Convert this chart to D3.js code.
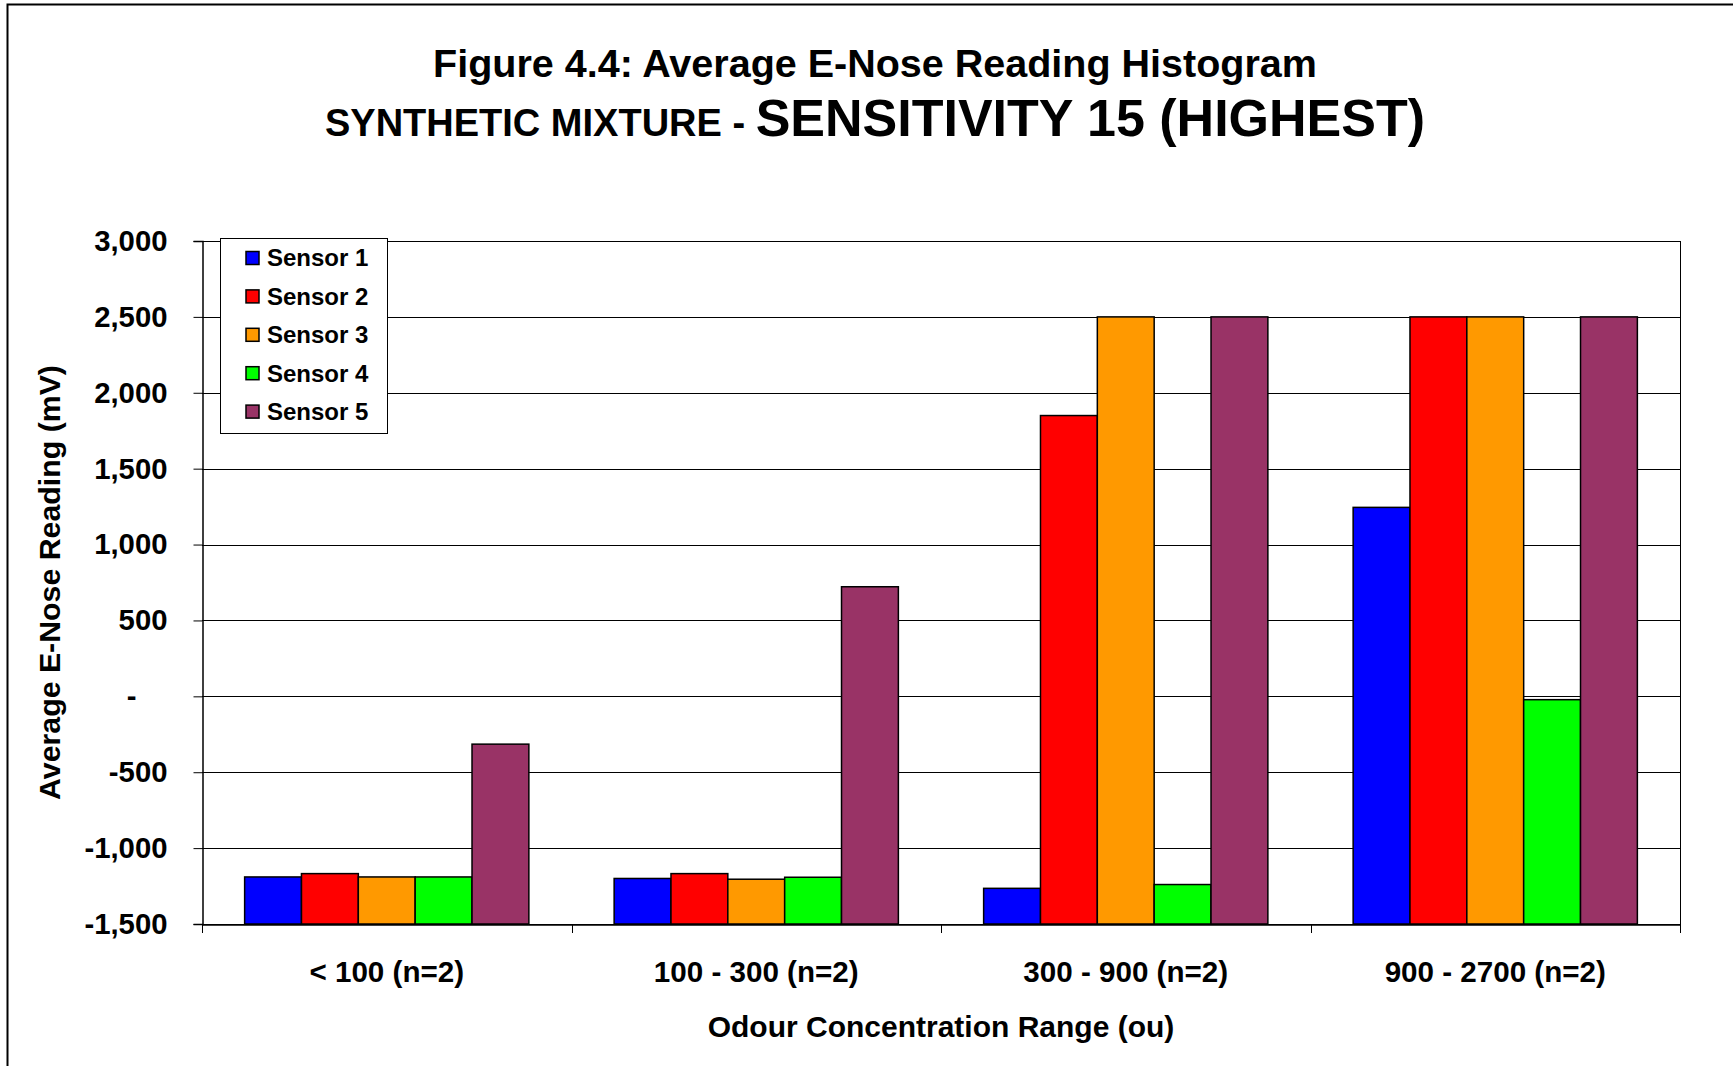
<!DOCTYPE html>
<html>
<head>
<meta charset="utf-8">
<script src="https://cdn.jsdelivr.net/npm/d3@7"></script>
<style>
  html, body { margin: 0; padding: 0; background: #fff; }
  svg { display: block; font-family: "Liberation Sans", Arial, sans-serif; font-weight: bold; }
</style>
</head>
<body>
<svg id="chart" width="1733" height="1066"></svg>
<script>
const categories = ["< 100 (n=2)", "100 - 300 (n=2)", "300 - 900 (n=2)", "900 - 2700 (n=2)"];
const seriesNames = ["Sensor 1", "Sensor 2", "Sensor 3", "Sensor 4", "Sensor 5"];
const sensor1 = [-1190, -1200, -1265, 1245];
const sensor2 = [-1168, -1168, 1850, 2500];
const sensor3 = [-1190, -1205, 2500, 2500];
const sensor4 = [-1190, -1192, -1240, -22];
const sensor5 = [-315, 722, 2500, 2500];
const seriesColors = ["#0000FF", "#FF0000", "#FF9900", "#00FF00", "#993366"];
const yTicks = [-1500, -1000, -500, 0, 500, 1000, 1500, 2000, 2500, 3000];
const titleLine1 = "Figure 4.4: Average E-Nose Reading Histogram";
const titleLine2a = "SYNTHETIC MIXTURE - ";
const titleLine2b = "SENSITIVITY 15 (HIGHEST)";
const xTitle = "Odour Concentration Range (ou)";
const yTitle = "Average E-Nose Reading (mV)";

const seriesValues = [sensor1, sensor2, sensor3, sensor4, sensor5];

const svg = d3.select("#chart");
const W = 1733, H = 1066;
const plot = { left: 202, right: 1680, top: 241, bottom: 924 };

// outer border (left and top visible)
svg.append("path")
  .attr("d", `M7.5,${H + 2} L7.5,4.5 L${W + 2},4.5`)
  .attr("fill", "none").attr("stroke", "#000").attr("stroke-width", 2);

// titles
const t = svg.append("text").attr("text-anchor", "middle").attr("fill", "#000");
t.append("tspan").attr("x", 875).attr("y", 77).style("font-size", "39.5px").text(titleLine1);
const t2 = svg.append("text").attr("text-anchor", "middle").attr("fill", "#000").attr("x", 875).attr("y", 136);
t2.append("tspan").style("font-size", "38px").text(titleLine2a);
t2.append("tspan").style("font-size", "52px").text(titleLine2b);

const y = d3.scaleLinear().domain([-1500, 3000]).range([plot.bottom, plot.top]);
const x0 = d3.scaleBand().domain(categories).range([plot.left, plot.right]).padding(0);
const x1 = d3.scaleBand().domain(seriesNames).range([0, x0.bandwidth()]).paddingInner(0).paddingOuter(0.75);

// gridlines
svg.append("g").selectAll("line").data(yTicks).join("line")
  .attr("x1", plot.left).attr("x2", plot.right)
  .attr("y1", d => Math.round(y(d)) + 0.5).attr("y2", d => Math.round(y(d)) + 0.5)
  .attr("stroke", "#000").attr("stroke-width", 1);

// plot right border
svg.append("line").attr("x1", plot.right + 0.5).attr("x2", plot.right + 0.5)
  .attr("y1", plot.top).attr("y2", plot.bottom).attr("stroke", "#000");

// bars
const data = [];
categories.forEach((c, i) => seriesNames.forEach((s, j) => data.push({ c, s, j, v: seriesValues[j][i] })));
svg.append("g").selectAll("rect").data(data).join("rect")
  .attr("x", d => x0(d.c) + x1(d.s))
  .attr("width", x1.bandwidth())
  .attr("y", d => y(d.v))
  .attr("height", d => y(-1500) - y(d.v))
  .attr("fill", d => seriesColors[d.j])
  .attr("stroke", "#000").attr("stroke-width", 1.5);

// y axis
const fmt = d3.format(",");
const yAxis = d3.axisLeft(y).tickValues(yTicks).tickSize(9).tickPadding(26)
  .tickFormat(d => d === 0 ? "-" : fmt(d).replace("\u2212", "-"));
const gy = svg.append("g").attr("transform", `translate(${plot.left + 0.5},0)`).call(yAxis);
gy.select(".domain").attr("stroke", "#000").attr("stroke-width", 1.5);
gy.selectAll(".tick line").attr("stroke", "#000");
gy.selectAll(".tick text").style("font-size", "29.3px").style("font-family", "Liberation Sans, Arial, sans-serif")
  .style("font-weight", "bold").attr("fill", "#000")
  .attr("dx", d => d === 0 ? -31 : 0);

// x axis (at -1500)
const xAxis = d3.axisBottom(x0).tickSize(0).tickPadding(36);
const gx = svg.append("g").attr("transform", `translate(0,${plot.bottom + 0.5})`).call(xAxis);
gx.select(".domain").attr("stroke", "#000").attr("stroke-width", 1.5);
gx.selectAll(".tick text").style("font-size", "29.6px").style("font-family", "Liberation Sans, Arial, sans-serif")
  .style("font-weight", "bold").attr("fill", "#000");
// category boundary tick marks
const bounds = categories.map(c => x0(c)).concat([plot.right]);
svg.append("g").selectAll("line").data(bounds).join("line")
  .attr("x1", d => Math.round(d) + 0.5).attr("x2", d => Math.round(d) + 0.5)
  .attr("y1", plot.bottom).attr("y2", plot.bottom + 9)
  .attr("stroke", "#000");

// axis titles
svg.append("text").attr("x", (plot.left + plot.right) / 2).attr("y", 1037)
  .attr("text-anchor", "middle").style("font-size", "30px").text(xTitle);
svg.append("text").attr("transform", `translate(60,${(plot.top + plot.bottom) / 2}) rotate(-90)`)
  .attr("text-anchor", "middle").style("font-size", "30.3px").text(yTitle);

// legend
const lg = svg.append("g");
lg.append("rect").attr("x", 220.5).attr("y", 238.5).attr("width", 167).attr("height", 195)
  .attr("fill", "#fff").attr("stroke", "#000").attr("stroke-width", 1);
const items = lg.selectAll("g.item").data(seriesNames).join("g").attr("class", "item")
  .attr("transform", (d, i) => `translate(0,${258 + i * 38.4})`);
items.append("rect").attr("x", 246).attr("y", -6.5).attr("width", 13).attr("height", 13)
  .attr("fill", (d, i) => seriesColors[i]).attr("stroke", "#000").attr("stroke-width", 1.5);
items.append("text").attr("x", 267).attr("y", 0).attr("dy", "0.35em")
  .style("font-size", "24px").text(d => d);
</script>
</body>
</html>
